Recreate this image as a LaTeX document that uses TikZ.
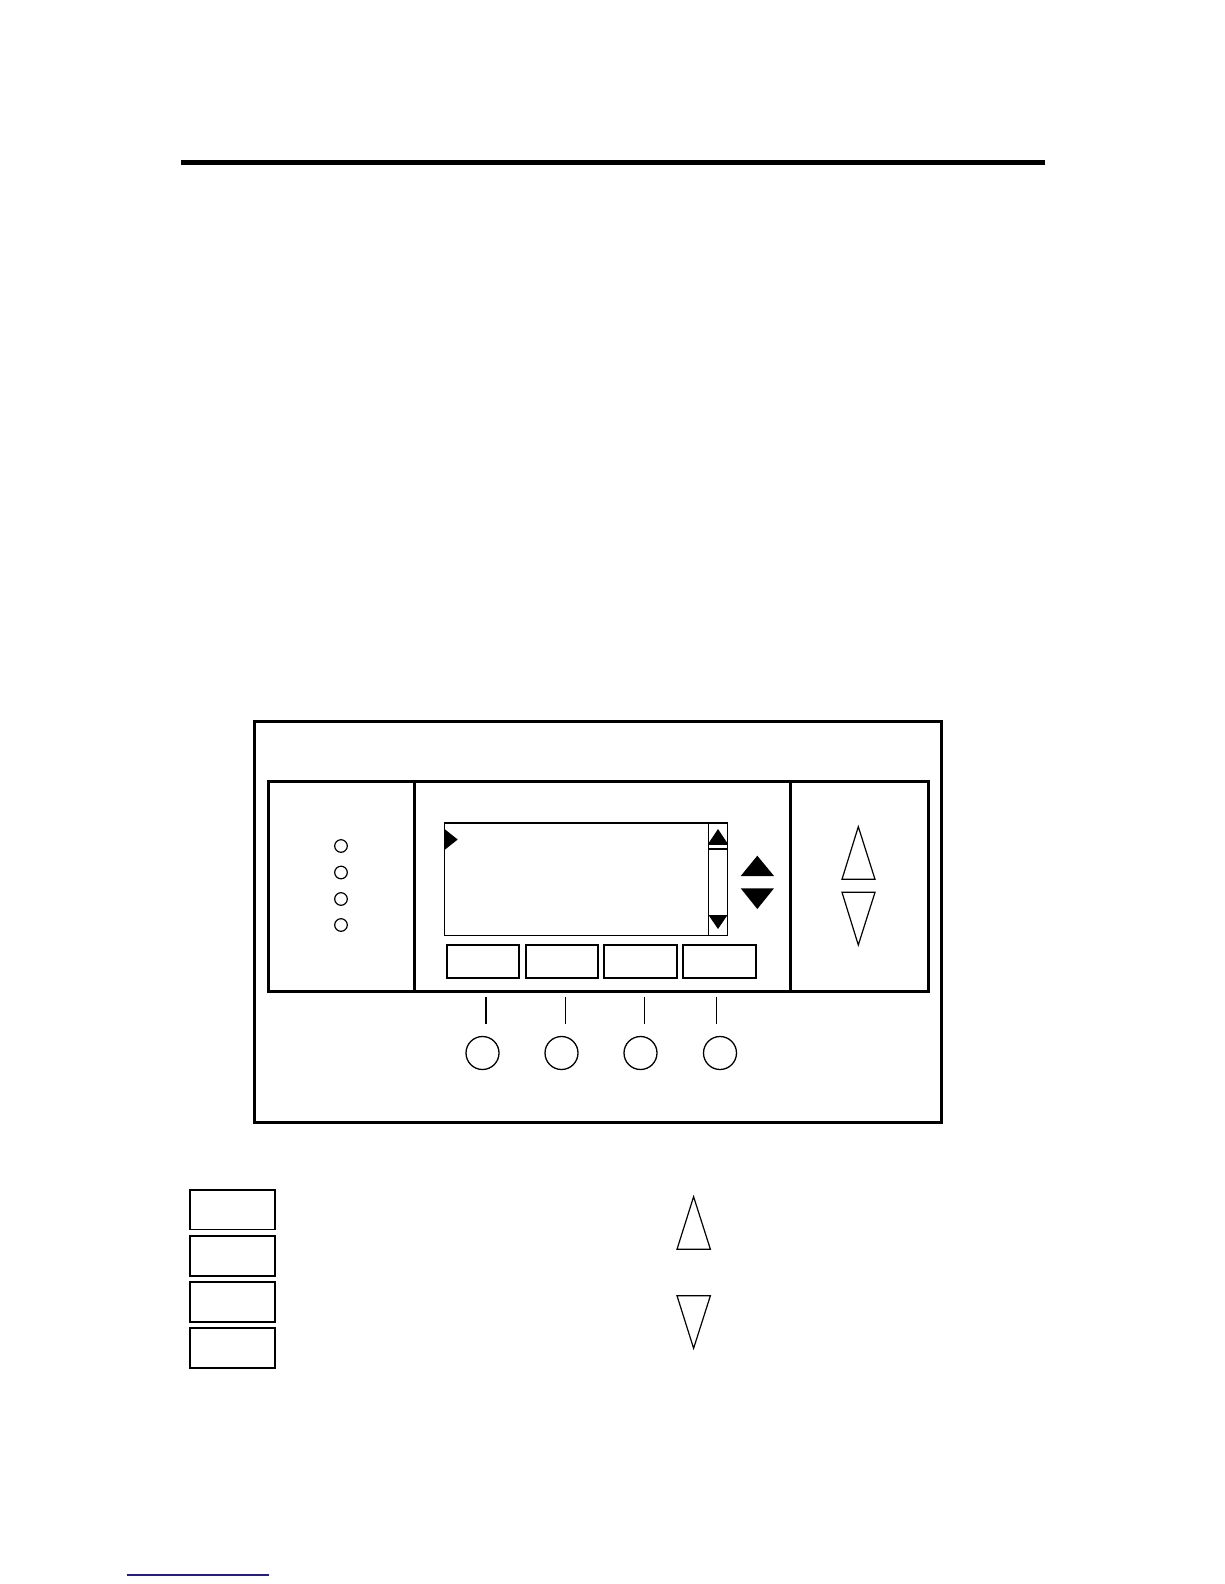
\documentclass[tikz,border=0pt]{standalone}
\definecolor{linkblue}{RGB}{30,30,140}
\begin{document}
\begin{tikzpicture}[x=1pt, y=-1pt, line join=miter, line cap=butt,
  thick box/.style={line width=3pt},
  key box/.style={line width=1.8pt},
  outline tri/.style={line width=1.2pt}]
\useasboundingbox (0,0) rectangle (1224,1584);
\draw[line width=5pt] (181,162)--(1045,162);
% panel frame
\draw[thick box] (254.5,721) rectangle (941,1122);
\draw[thick box] (268.5,781) rectangle (928,991);
\draw[thick box] (414,781)--(414,991) (790,781)--(790,991);
% status lamps
\foreach \y in {846,872.5,899,925} \draw[line width=1.2pt] (341,\y) circle (6.3);
% display
\draw[key box] (444.5,823) rectangle (727.5,935.5);
\draw[key box] (708.5,823)--(708.5,935.5);
\fill (718,829)--(727.5,843.3)--(708.5,843.3)--cycle;
\draw[line width=1.5pt] (708.5,843.8)--(727.5,843.8) (708.5,849)--(727.5,849);
\fill (708.5,915)--(727.5,915)--(718,929)--cycle;
\fill (444.5,829)--(457.7,839.5)--(444.5,850)--cycle;
\fill (757.3,855.7)--(774,876)--(740.7,876)--cycle;
\fill (740.7,888.3)--(774,888.3)--(757.3,909)--cycle;
% soft keys
\foreach \xa/\xb in {446.7/519,525.7/598.3,604.3/677.3,683.3/756.3}
  \draw[key box] (\xa,945) rectangle (\xb,977.7);
% arrow keys
\draw[outline tri] (858.3,826.7)--(875,879.3)--(842,879.3)--cycle;
\draw[outline tri] (842,892.3)--(875,892.3)--(858.3,945)--cycle;
% push buttons
\draw[line width=1.8pt] (486,997)--(486,1024);
\foreach \x in {565,644.5,716.5} \draw[line width=1pt] (\x,997)--(\x,1024);
\foreach \x in {482.5,561.5,640.5,720} \draw[line width=1.3pt] (\x,1053) circle (16.5);
% legend
\foreach \y in {1190,1236.3,1282.3,1328.3}
  \draw[key box] (189.6,\y) rectangle (275,\y+39.5);
\draw[outline tri] (693.6,1196.7)--(710.4,1249.3)--(677,1249.3)--cycle;
\draw[outline tri] (677,1295.7)--(710.4,1295.7)--(693.6,1348.3)--cycle;
\draw[linkblue, line width=1.2pt] (126.7,1575)--(269,1575);
\end{tikzpicture}
\end{document}
